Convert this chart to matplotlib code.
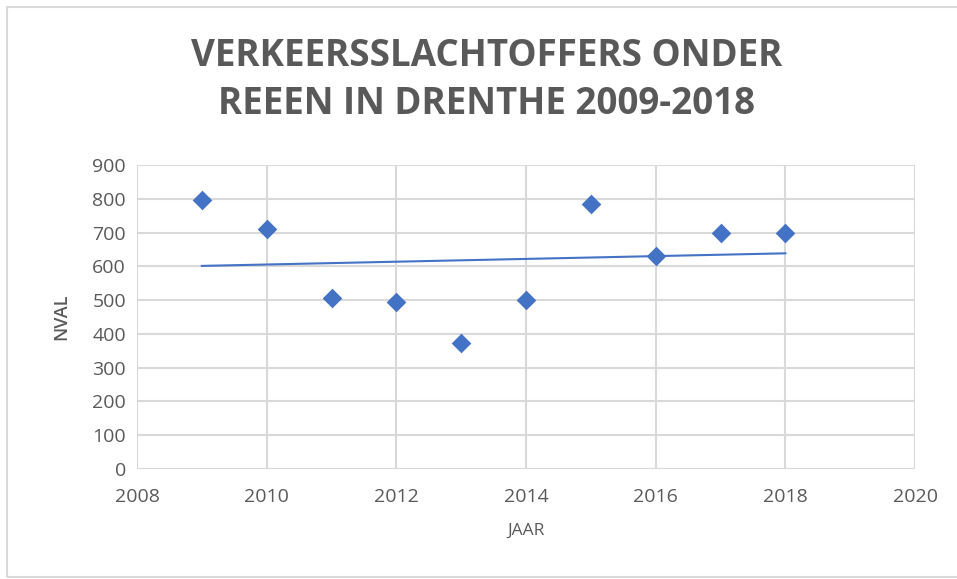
import numpy as np
import matplotlib
matplotlib.use("Agg")
import matplotlib.pyplot as plt
from matplotlib.patches import Rectangle

years = [2009, 2010, 2011, 2012, 2013, 2014, 2015, 2016, 2017, 2018]
counts = [795, 712, 507, 495, 373, 500, 785, 632, 700, 700]
title = "VERKEERSSLACHTOFFERS ONDER\nREEEN IN DRENTHE 2009-2018"
xlabel = "JAAR"
ylabel = "NVAL"
xticks = [2008, 2010, 2012, 2014, 2016, 2018, 2020]
yticks = [0, 100, 200, 300, 400, 500, 600, 700, 800, 900]

blue = "#4472C4"
txt = "#595959"
grid = "#D9D9D9"

fig = plt.figure(figsize=(9.57, 5.79), dpi=100)
fig.patch.set_facecolor("white")
fig.patches.append(Rectangle((7/957, 2/579), 960/957, 570/579, transform=fig.transFigure,
                             fill=False, edgecolor=grid, linewidth=1.5))

ax = fig.add_axes([137/957, 1-469/579, 778/957, 304/579])
ax.set_xlim(2008, 2020)
ax.set_ylim(0, 900)
ax.set_xticks(xticks)
ax.set_yticks(yticks)
ax.grid(True, color=grid, linewidth=1.5)
ax.set_axisbelow(True)
for s in ax.spines.values():
    s.set_visible(False)
ax.tick_params(length=0, colors=txt, labelsize=14)
ax.tick_params(axis="x", pad=14)
ax.tick_params(axis="y", pad=8)
for lab in ax.get_xticklabels() + ax.get_yticklabels():
    lab.set_family("Open Sans")

x = np.array(years, dtype=float)
y = np.array(counts, dtype=float)
m, b = np.polyfit(x, y, 1)
ax.plot([x.min(), x.max()], [m*x.min()+b, m*x.max()+b], color=blue, linewidth=1.5, zorder=3)
ax.scatter(x, y, marker="D", s=100, color=blue, zorder=4, linewidths=0)

ax.set_xlabel(xlabel, color=txt, fontsize=12.5, family="Open Sans", labelpad=12)
ax.set_ylabel(ylabel, color=txt, fontsize=13, family="Open Sans", fontweight="semibold",
              labelpad=16)

fig.text(487/957, 1-80/579, title, ha="center", va="center", color=txt, fontsize=26.5,
         fontweight="bold", family="Open Sans", linespacing=1.35)

fig.savefig("out.png", dpi=100)
